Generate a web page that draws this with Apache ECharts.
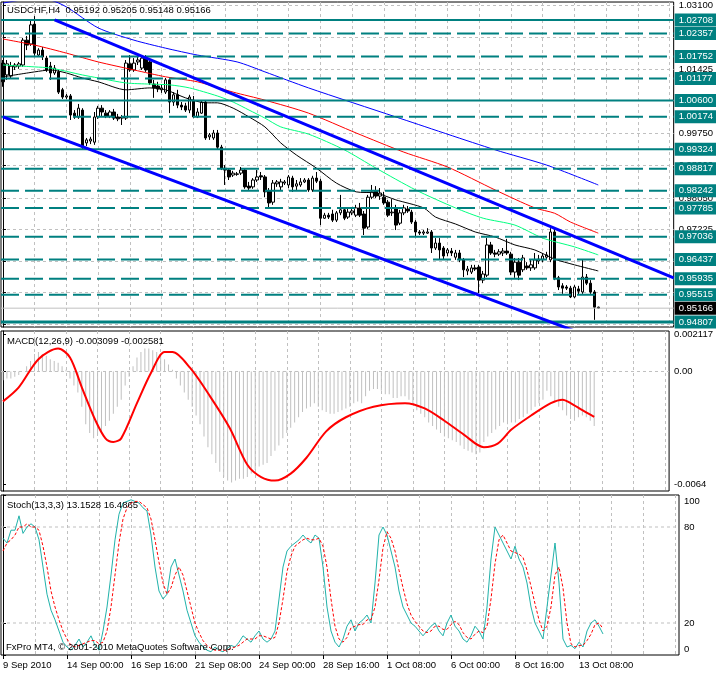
<!DOCTYPE html>
<html><head><meta charset="utf-8">
<script src="https://cdn.jsdelivr.net/npm/echarts@6/dist/echarts.min.js"></script>
<style>html,body{margin:0;padding:0;background:#fff;}#c{width:716px;height:673px;}</style>
</head><body><div id="c"></div>
<script>
// ---------- data ----------
const xTickLabels = ['9 Sep 2010','14 Sep 00:00','16 Sep 16:00','21 Sep 08:00','24 Sep 00:00','28 Sep 16:00','1 Oct 08:00','6 Oct 00:00','8 Oct 16:00','13 Oct 08:00'];
const priceTicks = [1.031,1.0225,1.01425,1.006,0.9975,0.989,0.9805,0.97225,0.964,0.95575,0.9475];
const solidLevels = [1.02708,1.00600,0.99324];
const thickLevel = 0.94807;
const dashedLevels = [1.02357,1.01752,1.01177,1.00174,0.98817,0.98242,0.97785,0.97036,0.96437,0.95935,0.95515];
const lastPrice = 0.95166;

const opens = [1.0158,1.0127,1.0124,1.0148,1.0150,1.0153,1.0218,1.0208,1.0260,1.0179,
1.0192,1.0171,1.0150,1.0132,1.0135,1.0088,1.0069,1.0072,1.0027,1.0017,
1.0035,0.9949,0.9954,0.9951,1.0017,1.0040,1.0027,1.0019,1.0030,1.0017,
1.0014,1.0014,1.0156,1.0140,1.0161,1.0145,1.0171,1.0161,1.0103,1.0098,
1.0088,1.0082,1.0114,1.0056,1.0075,1.0048,1.0046,1.0035,1.0061,1.0017,
1.0027,1.0056,0.9965,0.9962,0.9975,0.9938,0.9883,0.9878,0.9865,0.9868,
0.9870,0.9878,0.9836,0.9834,0.9852,0.9863,0.9860,0.9823,0.9794,0.9842,
0.9834,0.9844,0.9839,0.9857,0.9836,0.9839,0.9847,0.9852,0.9826,0.9857,
0.9849,0.9752,0.9760,0.9763,0.9747,0.9766,0.9774,0.9755,0.9766,0.9760,
0.9779,0.9763,0.9729,0.9807,0.9823,0.9810,0.9807,0.9794,0.9766,0.9779,
0.9739,0.9766,0.9776,0.9768,0.9742,0.9716,0.9713,0.9713,0.9716,0.9674,
0.9687,0.9674,0.9661,0.9666,0.9650,0.9661,0.9643,0.9614,0.9611,0.9622,
0.9624,0.9590,0.9603,0.9682,0.9661,0.9658,0.9661,0.9666,0.9658,0.9611,
0.9637,0.9617,0.9627,0.9622,0.9622,0.9640,0.9643,0.9650,0.9643,0.9716,
0.9596,0.9575,0.9572,0.9569,0.9546,0.9567,0.9559,0.9598,0.9582,0.9559,
0.95192];
const closes = [1.0109,1.0156,1.0150,1.0153,1.0156,1.0218,1.0205,1.0258,1.0184,1.0192,
1.0174,1.0140,1.0132,1.0145,1.0082,1.0069,1.0072,1.0022,1.0017,1.0040,
0.9938,0.9957,0.9959,1.0017,1.0040,1.0030,1.0019,1.0030,1.0014,1.0012,
1.0017,1.0158,1.0140,1.0158,1.0166,1.0171,1.0140,1.0106,1.0093,1.0090,
1.0093,1.0114,1.0056,1.0075,1.0048,1.0043,1.0035,1.0069,1.0017,1.0030,
1.0056,0.9962,0.9970,0.9975,0.9938,0.9883,0.9878,0.9860,0.9870,0.9867,
0.9878,0.9834,0.9831,0.9852,0.9860,0.9860,0.9821,0.9792,0.9844,0.9847,
0.9847,0.9847,0.9860,0.9834,0.9842,0.9847,0.9852,0.9826,0.9857,0.9849,
0.9752,0.9760,0.9755,0.9747,0.9766,0.9774,0.9752,0.9768,0.9771,0.9779,
0.9760,0.9726,0.9807,0.9821,0.9810,0.9818,0.9792,0.9760,0.9768,0.9734,
0.9766,0.9779,0.9771,0.9742,0.9716,0.9713,0.9716,0.9716,0.9674,0.9687,
0.9669,0.9653,0.9669,0.9661,0.9661,0.9643,0.9617,0.9619,0.9622,0.9619,
0.9590,0.9606,0.9682,0.9661,0.9658,0.9664,0.9666,0.9661,0.9611,0.9637,
0.9603,0.9648,0.9622,0.9630,0.9643,0.9645,0.9653,0.9656,0.9716,0.9596,
0.9572,0.9569,0.9569,0.9546,0.9572,0.9561,0.9598,0.9582,0.9559,0.9519,
0.95166];
const lows = [1.0096,1.0114,1.0119,1.0140,1.0143,1.0148,1.0192,1.0203,1.0177,1.0174,
1.0166,1.0135,1.0114,1.0127,1.0077,1.0064,1.0064,1.0009,1.0012,1.0012,
0.9931,0.9941,0.9946,0.9944,1.0012,1.0019,1.0014,1.0014,1.0009,1.0006,
0.9996,1.0009,1.0135,1.0135,1.0153,1.0140,1.0135,1.0101,1.0067,1.0082,
1.0080,1.0077,1.0027,1.0046,1.0040,1.0035,1.0030,1.0027,1.0014,1.0014,
1.0025,0.9957,0.9957,0.9957,0.9931,0.9878,0.9839,0.9852,0.9860,0.9863,
0.9865,0.9829,0.9826,0.9829,0.9847,0.9852,0.9807,0.9779,0.9787,0.9834,
0.9826,0.9839,0.9831,0.9821,0.9826,0.9834,0.9844,0.9821,0.9821,0.9844,
0.9734,0.9750,0.9750,0.9742,0.9742,0.9760,0.9747,0.9750,0.9760,0.9755,
0.9755,0.9708,0.9724,0.9802,0.9805,0.9800,0.9787,0.9755,0.9758,0.9721,
0.9734,0.9760,0.9766,0.9737,0.9703,0.9708,0.9708,0.9711,0.9661,0.9669,
0.9643,0.9643,0.9653,0.9653,0.9643,0.9637,0.9598,0.9603,0.9606,0.9614,
0.9556,0.9582,0.9598,0.9656,0.9650,0.9653,0.9653,0.9656,0.9603,0.9596,
0.9590,0.9611,0.9617,0.9614,0.9617,0.9632,0.9637,0.9643,0.9637,0.9590,
0.9564,0.9554,0.9564,0.9543,0.9543,0.9551,0.9554,0.9577,0.9554,0.9486,
0.95148];
const highs = [1.0166,1.0166,1.0161,1.0158,1.0161,1.0224,1.0229,1.0273,1.0281,1.0197,
1.0200,1.0177,1.0161,1.0153,1.0140,1.0093,1.0077,1.0077,1.0035,1.0051,
1.0040,0.9962,0.9965,1.0030,1.0046,1.0048,1.0035,1.0035,1.0038,1.0025,
1.0022,1.0166,1.0179,1.0171,1.0174,1.0179,1.0179,1.0171,1.0114,1.0109,
1.0103,1.0119,1.0119,1.0082,1.0088,1.0056,1.0054,1.0075,1.0072,1.0040,
1.0061,1.0061,0.9975,0.9983,0.9983,0.9944,0.9891,0.9883,0.9876,0.9873,
0.9886,0.9883,0.9847,0.9857,0.9878,0.9873,0.9865,0.9831,0.9852,0.9852,
0.9855,0.9852,0.9865,0.9863,0.9852,0.9857,0.9857,0.9857,0.9863,0.9873,
0.9855,0.9766,0.9766,0.9774,0.9771,0.9813,0.9781,0.9776,0.9781,0.9787,
0.9792,0.9771,0.9813,0.9839,0.9836,0.9831,0.9821,0.9800,0.9802,0.9787,
0.9774,0.9787,0.9784,0.9774,0.9747,0.9721,0.9721,0.9726,0.9721,0.9700,
0.9700,0.9679,0.9674,0.9674,0.9669,0.9669,0.9648,0.9627,0.9630,0.9630,
0.9630,0.9614,0.9700,0.9690,0.9669,0.9671,0.9674,0.9698,0.9664,0.9648,
0.9648,0.9656,0.9637,0.9643,0.9661,0.9656,0.9661,0.9664,0.9726,0.9726,
0.9601,0.9582,0.9577,0.9575,0.9577,0.9575,0.9643,0.9606,0.9590,0.9564,
0.95205];

// moving averages, sampled [bar, price]
const maBlack = [[0,1.0122],[8,1.0135],[12,1.0140],[16,1.0132],[20,1.0119],[24,1.0109],[31,1.0088],[37,1.0093],[41,1.0088],[46,1.0067],[51,1.0054],[54,1.0054],[58,1.0040],[62,1.0017],[66,0.9991],[70,0.9949],[74,0.9917],[79,0.9883],[84,0.9844],[89,0.9821],[94,0.9818],[99,0.9800],[106,0.9779],[109,0.9755],[114,0.9737],[119,0.9716],[124,0.9703],[129,0.9682],[134,0.9669],[139,0.9645],[144,0.9630],[150,0.9614]];
const maGreen = [[0,1.0153],[8,1.0148],[12,1.0145],[20,1.0127],[24,1.0119],[31,1.0106],[37,1.0103],[42,1.0101],[47,1.0093],[54,1.0072],[58,1.0056],[62,1.0035],[66,1.0014],[70,0.9991],[77,0.9972],[86,0.9931],[94,0.9883],[104,0.9826],[114,0.9779],[121,0.9752],[129,0.9734],[136,0.9700],[144,0.9677],[150,0.9656]];
const maRed = [[0,1.0221],[8,1.0205],[16,1.0184],[24,1.0161],[33,1.0140],[41,1.0122],[49,1.0109],[58,1.0082],[66,1.0061],[77,1.0027],[89,0.9975],[101,0.9925],[112,0.9886],[124,0.9826],[134,0.9779],[139,0.9765],[143,0.9742],[150,0.9713]];
const maBlue = [[0,1.0315],[4,1.0322],[8,1.0326],[12,1.0323],[16,1.0305],[24,1.0250],[33,1.0218],[41,1.0197],[49,1.0179],[59,1.0161],[66,1.0135],[77,1.0093],[99,1.0017],[124,0.9931],[137,0.9891],[150,0.9839]];
const upperChannel = [[13,1.0271],[169,0.9596]];
const lowerChannel = [[0,1.0017],[169,0.9360]];

// MACD(12,26,9)
const macdTickValues = [0.002117, 0, -0.0064];
const macdTickLabels = ['0.002117','0.00','-0.0064'];
const macdHist = [-0.0005,-0.0004,-0.0004,-0.0003,-0.0002,0.0000,
0.0003,0.0006,0.0010,0.0011,0.0010,0.0009,0.0007,0.0006,0.0005,0.0003,0.0001,
-0.0004,-0.0008,-0.0012,-0.0020,-0.0030,-0.0035,-0.0038,-0.0036,-0.0034,-0.0031,-0.0028,-0.0024,-0.0020,-0.0016,-0.0008,-0.0003,
0.0003,0.0008,0.0011,0.0013,0.0013,0.0012,0.0011,0.0009,0.0007,0.0004,0.0001,
-0.0004,-0.0008,-0.0012,-0.0016,-0.0020,-0.0025,-0.0030,-0.0037,-0.0043,-0.0047,-0.0052,-0.0057,-0.0060,-0.0062,-0.0063,-0.0062,-0.0061,
-0.0061,-0.0060,-0.0058,-0.0056,-0.0054,-0.0053,-0.0052,-0.0048,-0.0045,-0.0042,-0.0038,-0.0035,-0.0032,-0.0029,-0.0026,-0.0023,-0.0021,-0.0020,-0.0018,-0.0020,
-0.0022,-0.0023,-0.0024,-0.0024,-0.0023,-0.0022,-0.0021,-0.0020,-0.0018,-0.0017,-0.0018,-0.0014,-0.0011,-0.0010,-0.0010,-0.0011,-0.0013,-0.0013,-0.0015,-0.0015,
-0.0014,-0.0014,-0.0016,-0.0019,-0.0022,-0.0024,-0.0026,-0.0029,-0.0031,-0.0033,-0.0035,-0.0037,-0.0038,-0.0039,-0.0040,-0.0042,-0.0044,-0.0045,-0.0046,-0.0047,-0.0046,
-0.0040,-0.0037,-0.0035,-0.0033,-0.0031,-0.0029,-0.0030,-0.0029,-0.0029,-0.0027,-0.0026,-0.0024,-0.0022,-0.0020,-0.0018,-0.0016,-0.0011,-0.0014,-0.0017,-0.0020,-0.0022,-0.0025,-0.0027,-0.0028,-0.0026,-0.0025,-0.0026,-0.0028,-0.003099];
const macdSignal = [[0,-0.0017],[4,-0.0009],[9,0.0007],[14,0.0013],[17,0.0008],[20,-0.0009],[23.5,-0.0028],[26,-0.0038],[28,-0.0040],[30,-0.0038],[34,-0.0018],[37.5,-0.0001],[41,0.0011],[43,0.0011],[47.5,0.0002],[52.5,-0.0014],[57.5,-0.0032],[62,-0.0053],[65.5,-0.0060],[69,-0.0062],[73,-0.0058],[77,-0.0049],[82,-0.0034],[87,-0.0026],[94,-0.0020],[102,-0.0018],[107,-0.0021],[112,-0.0028],[117,-0.0036],[122,-0.0043],[125.5,-0.0041],[129,-0.0033],[134,-0.0025],[139,-0.0018],[142,-0.0016],[144,-0.0018],[147,-0.0022],[150,-0.002581]];

// Stochastic(13,3,3)
const stochTickValues = [100,80,20,0];
const stochLevels = [80,20];
const stochMain = [73,70,78,78,87,76,80,82,80,72,
55,38,28,22,15,8,5,
3,6,10,5,8,12,6,3,
15,30,50,72,88,95,96,97,96,95,92,
90,75,55,40,35,38,55,60,50,
40,28,20,12,8,5,3,2,5,3,2,
4,6,5,8,12,10,8,12,15,10,8,
10,15,35,55,65,68,70,72,75,
72,70,75,73,55,30,15,8,
5,10,18,22,15,20,22,25,20,45,75,80,
75,65,55,40,30,25,20,18,15,12,15,
18,20,15,12,20,25,18,15,10,8,12,18,15,10,
30,60,80,75,70,65,60,68,60,55,
45,30,20,15,10,30,50,70,45,10,
5,6,4,8,5,15,20,22,18,13.1528];
const stochSignal = [65,70,72,75,80,80,82,80,80,78,
68,55,40,30,22,15,10,
6,5,6,7,8,9,9,7,
8,15,30,50,70,85,92,95,96,96,94,
92,85,72,58,45,38,42,50,55,
50,40,30,20,14,9,6,4,3,3,3,
3,4,5,6,8,10,10,10,12,12,11,
10,11,20,35,52,62,68,70,72,
73,72,72,73,68,55,35,18,
10,8,11,17,18,19,19,22,22,30,47,67,
77,73,65,53,42,32,25,21,18,15,14,
15,18,18,16,16,19,21,19,14,11,10,13,15,14,
18,35,57,72,75,70,65,64,63,61,
53,43,32,22,15,18,30,50,55,42,
20,7,5,6,6,9,13,19,20,16.4865];

// ---------- chart ----------
const FONT = 'Liberation Sans';
const FS = 9.5;
const GRID_STEP = 8, LABEL_STEP = 16;
const xMin = -0.5, xMax = 169;
const gridTicks = []; for (let v = 0; v <= xMax; v += GRID_STEP) gridTicks.push(v);
const labelTicks = xTickLabels.map((_, k) => k * LABEL_STEP);
const dash = {show:true, lineStyle:{color:'#c0c0c0', type:[3,3], width:1}};

// grid-line-only x axis (vertical dashed lines every 8 bars)
function xGridAxis(g, pos){
  return {type:'value', gridIndex:g, min:xMin, max:xMax, position:pos,
    axisLine:{show:false}, axisTick:{show:false, customValues:gridTicks}, axisLabel:{show:false}, splitLine:dash};
}
// date axis under the bottom pane (labels + ticks every 16 bars)
const xDateAxis = {type:'value', gridIndex:2, min:xMin, max:xMax, position:'bottom',
  axisLine:{show:false},
  axisTick:{show:true, length:4, customValues:labelTicks, lineStyle:{color:'#000'}},
  axisLabel:{show:true, customValues:labelTicks, align:'left', margin:5, fontFamily:FONT, fontSize:FS, color:'#000',
    formatter:(v)=>{const k=labelTicks.indexOf(Math.round(v)); return k>=0?xTickLabels[k]:'';}},
  splitLine:{show:false}};

const candleData = opens.map((o,i)=>[i,o,closes[i],lows[i],highs[i]]);

// horizontal level = a two-point line across the full x extent, with an end label box
function levelSeries(v, color, width, type, bg, showLabel, xi, yi, z){
  return {type:'line', xAxisIndex:xi||0, yAxisIndex:yi||0, data:[[xMin,v],[xMax,v]], showSymbol:false, silent:true,
    z:z||5, lineStyle:{color:color, width:width, type:type},
    endLabel: showLabel ? {show:true, distance:1, formatter:v.toFixed(5), color:'#fff', backgroundColor:bg,
      padding:[2,4,1,4], fontFamily:FONT, fontSize:FS} : {show:false}};
}
const levelSeriesList = [];
dashedLevels.forEach(v=>levelSeriesList.push(levelSeries(v,'#008080',2,[18,6],'#008080',true)));
solidLevels.forEach(v=>levelSeriesList.push(levelSeries(v,'#008080',2,'solid','#008080',true)));
levelSeriesList.push(levelSeries(lastPrice,'#c0c0c0',1,'solid','#000000',true));
levelSeriesList.push(levelSeries(thickLevel,'#008080',3,'solid','#008080',true));
levelSeriesList.push(levelSeries(0,'#c0c0c0',1,[3,3],null,false,1,1,1));
stochLevels.forEach(v=>levelSeriesList.push(levelSeries(v,'#c0c0c0',1,[3,3],null,false,2,2,1)));

function maSeries(data,color,width){
  return {type:'line', xAxisIndex:0, yAxisIndex:0, data:data, showSymbol:false, smooth:0.25,
    lineStyle:{color:color,width:width||1}, z:4, silent:true, clip:true};
}

const chart = echarts.init(document.getElementById('c'), null, {renderer:'canvas'});
chart.setOption({
  animation:false,
  backgroundColor:'#fff',
  textStyle:{fontFamily:FONT},
  grid:[
    {left:1, right:37, top:2, height:325, show:true, borderColor:'#000', borderWidth:1},
    {left:1, right:37, top:331, height:160, show:true, borderColor:'#000', borderWidth:1},
    {left:1, right:37, top:495, height:160, show:true, borderColor:'#000', borderWidth:1}
  ],
  xAxis:[xGridAxis(0,'bottom'), xGridAxis(1,'bottom'), xDateAxis, xGridAxis(2,'top')],
  yAxis:[
    {type:'value', gridIndex:0, position:'right', min:0.94673, max:1.03178,
      axisLine:{show:true, lineStyle:{color:'#000'}},
      axisTick:{show:true, length:3, customValues:priceTicks, lineStyle:{color:'#000'}},
      axisLabel:{customValues:priceTicks, margin:5, fontFamily:FONT, fontSize:FS, color:'#000', formatter:(v)=>v.toFixed(5)},
      splitLine:dash},
    {type:'value', gridIndex:1, position:'right', min:-0.00679, max:0.0023,
      axisLine:{show:true, lineStyle:{color:'#000'}},
      axisTick:{show:true, length:3, customValues:macdTickValues, lineStyle:{color:'#000'}},
      axisLabel:{customValues:macdTickValues, margin:5, fontFamily:FONT, fontSize:FS, color:'#000',
        formatter:(v)=>{let b=0;macdTickValues.forEach((t,k)=>{if(Math.abs(t-v)<Math.abs(macdTickValues[b]-v))b=k;});return macdTickLabels[b];}},
      splitLine:{show:false}},
    {type:'value', gridIndex:2, position:'right', min:0, max:100,
      axisLine:{show:true, lineStyle:{color:'#000'}},
      axisTick:{show:true, length:3, customValues:stochTickValues, lineStyle:{color:'#000'}},
      axisLabel:{customValues:stochTickValues, margin:5, fontFamily:FONT, fontSize:FS, color:'#000',
        formatter:(v)=> v===100 ? '{t|100}' : (v===0 ? '{b|0}' : String(v)),
        rich:{t:{padding:[13,0,0,0],fontFamily:FONT,fontSize:FS,color:'#000'}, b:{padding:[0,0,11,0],fontFamily:FONT,fontSize:FS,color:'#000'}}},
      splitLine:{show:false}}
  ],
  graphic:[
    {type:'text', left:7, top:5, z:100, style:{text:'USDCHF,H4  0.95192 0.95205 0.95148 0.95166', font:FS+'px "'+FONT+'"', fill:'#000'}},
    {type:'text', left:7, top:336, z:100, style:{text:'MACD(12,26,9) -0.003099 -0.002581', font:FS+'px "'+FONT+'"', fill:'#000'}},
    {type:'text', left:7, top:500, z:100, style:{text:'Stoch(13,3,3) 13.1528 16.4865', font:FS+'px "'+FONT+'"', fill:'#000'}},
    {type:'text', left:6, top:642, z:100, style:{text:'FxPro MT4, © 2001-2010 MetaQuotes Software Corp.', font:FS+'px "'+FONT+'"', fill:'#000'}}
  ],
  series:[
    {type:'candlestick', xAxisIndex:0, yAxisIndex:0, data:candleData, encode:{x:0,y:[1,2,3,4]},
      barWidth:3, z:3, silent:true,
      itemStyle:{color:'#fff', color0:'#000', borderColor:'#000', borderColor0:'#000', borderWidth:1}},
    maSeries(maBlue,'#0000ff'),
    maSeries(maRed,'#ff0000'),
    maSeries(maGreen,'#00ff7f'),
    maSeries(maBlack,'#000000'),
    {type:'line', xAxisIndex:0, yAxisIndex:0, data:upperChannel, showSymbol:false, lineStyle:{color:'#0000ff',width:3}, z:6, silent:true},
    {type:'line', xAxisIndex:0, yAxisIndex:0, data:lowerChannel, showSymbol:false, lineStyle:{color:'#0000ff',width:3}, z:6, silent:true},
    {type:'bar', xAxisIndex:1, yAxisIndex:1, data:macdHist.map((v,i)=>[i,v]), barWidth:1, itemStyle:{color:'#c0c0c0'}, silent:true},
    {type:'line', xAxisIndex:1, yAxisIndex:1, data:macdSignal, showSymbol:false, smooth:0.3, lineStyle:{color:'#ff0000',width:2}, z:4, silent:true},
    {type:'line', xAxisIndex:2, yAxisIndex:2, data:stochMain.map((v,i)=>[i,v]), showSymbol:false, lineStyle:{color:'#20b2aa',width:1}, z:4, silent:true},
    {type:'line', xAxisIndex:2, yAxisIndex:2, data:stochSignal.map((v,i)=>[i,v]), showSymbol:false, lineStyle:{color:'#ff0000',width:1,type:[3,2]}, z:4, silent:true}
  ].concat(levelSeriesList)
});
</script></body></html>
